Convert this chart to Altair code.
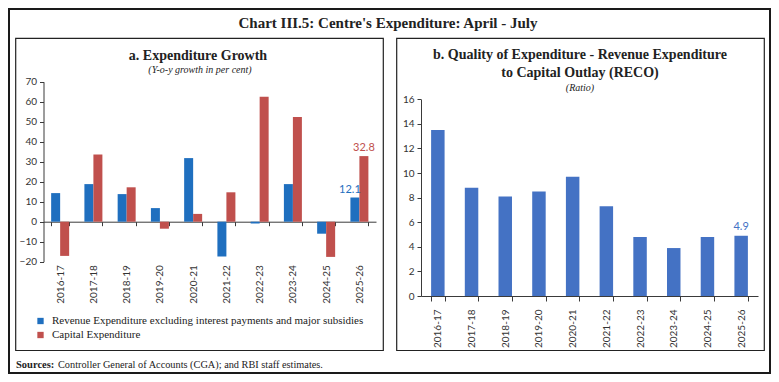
import altair as alt
import pandas as pd

# ---------------- data ----------------
years = ["2016-17", "2017-18", "2018-19", "2019-20", "2020-21",
         "2021-22", "2022-23", "2023-24", "2024-25", "2025-26"]
series_names = ["Revenue Expenditure excluding interest payments and major subsidies",
                "Capital Expenditure"]
revenue_growth = [14.3, 18.8, 13.8, 6.8, 31.8, -17.4, -0.9, 18.8, -6.0, 12.1]
capital_growth = [-17.1, 33.6, 17.2, -3.5, 3.9, 14.7, 62.5, 52.3, -17.6, 32.8]
reco_ratio = [13.5, 8.8, 8.1, 8.5, 9.7, 7.3, 4.8, 3.9, 4.8, 4.9]
y_ticks_a = [-20, -10, 0, 10, 20, 30, 40, 50, 60, 70]
y_ticks_b = [0, 2, 4, 6, 8, 10, 12, 14, 16]
label_year = "2025-26"

# ---------------- style ----------------
W, H = 763, 366
BLUE_A = "#1F6FBF"
RED_A = "#C0504D"
BLUE_B = "#4472C4"
SERIF = "Liberation Serif"
SANS = "Lato"
AX = "#3a3a3a"
TXT = "#222222"

df_a = pd.DataFrame({
    "year": years * 2,
    "series": [series_names[0]] * len(years) + [series_names[1]] * len(years),
    "value": revenue_growth + capital_growth,
})
df_b = pd.DataFrame({"year": years, "value": reco_ratio})


def txt(s, x, y, size, weight="normal", style="normal", align="center", color=TXT):
    return alt.Chart().mark_text(
        font=SERIF, fontSize=size, fontWeight=weight, fontStyle=style,
        align=align, baseline="middle", color=color
    ).encode(x=alt.value(x), y=alt.value(y), text=alt.value(s))


def frame(x1, y1, x2, y2, w, color):
    return alt.Chart().mark_rect(fillOpacity=0, stroke=color, strokeWidth=w).encode(
        x=alt.value(x1), x2=alt.value(x2), y=alt.value(y1), y2=alt.value(y2))


axis_common = dict(title=None, grid=False, domainColor=AX, tickColor=AX,
                   labelFont=SANS, labelFontSize=10, labelColor="#333333",
                   domainWidth=1, tickWidth=1)

# ---------------- panel a ----------------
A_X0, A_X1 = 35.5, 368
A_Y0, A_Y1 = 253.7, 73.7   # -20 -> 70
A_ZERO = 213.7

xa = alt.X("year:N", sort=years,
           scale=alt.Scale(domain=years, range=[A_X0, A_X1], paddingInner=0.46, paddingOuter=0.23),
           axis=alt.Axis(orient="bottom", offset=A_ZERO - H, labelAngle=270, tickBand="extent",
                         tickSize=4, labelPadding=39, **axis_common))
ya = alt.Y("value:Q",
           scale=alt.Scale(domain=[-20, 70], range=[A_Y0, A_Y1], nice=False, zero=False),
           axis=alt.Axis(orient="left", offset=-A_X0, values=y_ticks_a, tickSize=4,
                         labelPadding=3, **axis_common))
xoa = alt.XOffset("series:N", sort=series_names,
                  scale=alt.Scale(domain=series_names, range=[0, 18]))
ca = alt.Color("series:N", sort=series_names,
               scale=alt.Scale(domain=series_names, range=[BLUE_A, RED_A]),
               legend=alt.Legend(orient="none", legendX=27, legendY=307.5, title=None,
                                 symbolType="square", symbolSize=40, symbolStrokeWidth=0,
                                 labelFont=SERIF, labelFontSize=11, labelColor=TXT,
                                 labelOffset=6, labelLimit=500, rowPadding=2, padding=0))

bars_a = alt.Chart(df_a).mark_bar().encode(x=xa, y=ya, xOffset=xoa, color=ca)


def label_a(series, dx):
    return alt.Chart(df_a).transform_filter(
        (alt.datum.year == label_year) & (alt.datum.series == series)
    ).mark_text(font=SANS, fontSize=11, dy=-8, dx=dx, baseline="middle").encode(
        x=xa, y=ya, xOffset=xoa, color=ca, text=alt.Text("value:Q", format=".1f"))


panel_a = alt.layer(bars_a, label_a(series_names[0], -5), label_a(series_names[1], 0))

# ---------------- panel b ----------------
B_X0, B_X1 = 413, 750
B_Y0, B_Y1 = 288, 91.3

xb = alt.X("year:N", sort=years,
           scale=alt.Scale(domain=years, range=[B_X0, B_X1], paddingInner=0.6, paddingOuter=0.3),
           axis=alt.Axis(orient="bottom", offset=B_Y0 - H, labelAngle=270, tickBand="extent",
                         tickSize=5, labelPadding=8, **axis_common))
yb = alt.Y("value:Q",
           scale=alt.Scale(domain=[0, 16], range=[B_Y0, B_Y1], nice=False),
           axis=alt.Axis(orient="left", offset=-B_X0, values=y_ticks_b, tickSize=4,
                         labelPadding=3, **axis_common))
bars_b = alt.Chart(df_b).mark_bar(color=BLUE_B).encode(x=xb, y=yb)
labels_b = alt.Chart(df_b).transform_filter(
    alt.datum.year == label_year
).mark_text(font=SANS, fontSize=11, dy=-9, color=BLUE_B).encode(
    x=xb, y=yb, text=alt.Text("value:Q", format=".1f"))
panel_b = alt.layer(bars_b, labels_b)

# ---------------- decorations ----------------
deco = [
    frame(1, 1, W - 1, H - 1, 2, "#1a1a1a"),
    frame(7.7, 30.3, 375.3, 342.5, 1.2, "#222222"),
    frame(388.7, 30.3, 756.3, 342.5, 1.2, "#222222"),
    txt("Chart III.5: Centre's Expenditure: April - July", 380, 15, 15, weight="bold"),
    txt("a. Expenditure Growth", 190, 48, 14, weight="bold"),
    txt("(Y-o-y growth in per cent)", 192, 62, 10, style="italic"),
    txt("b. Quality of Expenditure - Revenue Expenditure", 572, 47, 14, weight="bold"),
    txt("to Capital Outlay (RECO)", 572, 65, 14, weight="bold"),
    txt("(Ratio)", 572, 80, 10, style="italic"),
    txt("Sources:", 8, 357, 10.5, weight="bold", align="left"),
    txt("Controller General of Accounts (CGA); and RBI staff estimates.", 50, 357, 10.3, align="left"),
]

chart = alt.layer(*deco, panel_a, panel_b).resolve_scale(
    x="independent", y="independent", xOffset="independent", color="independent"
).properties(
    width=W, height=H, autosize=alt.AutoSizeParams(type="none"), padding=0,
    background="white"
).configure_view(stroke=None)

chart.save("out.html", embed_options={"renderer": "svg", "actions": False})
